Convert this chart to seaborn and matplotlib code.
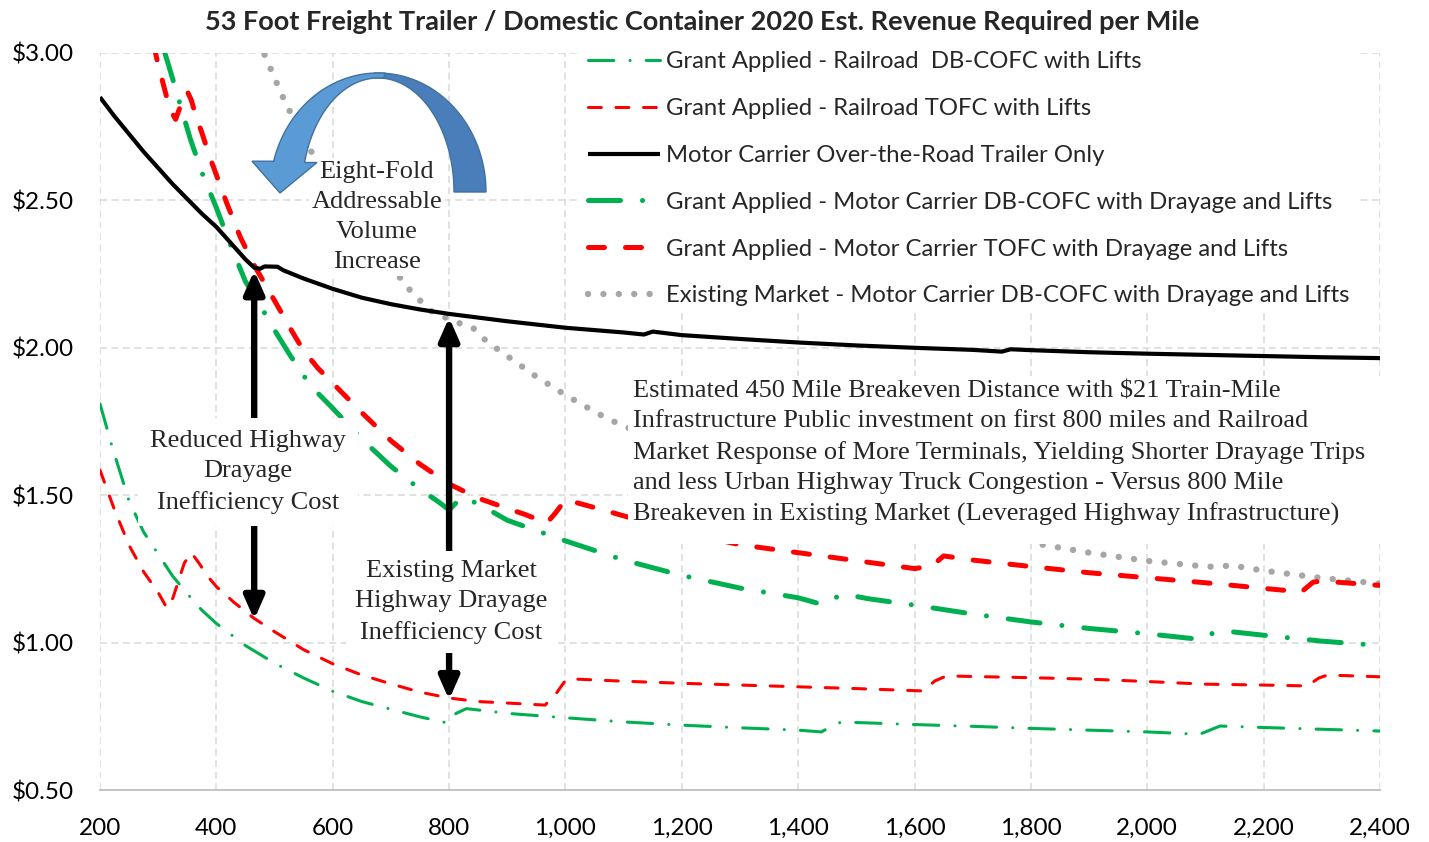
import numpy as np
import pandas as pd
import matplotlib
matplotlib.use("Agg")
import matplotlib.pyplot as plt
import matplotlib.patches as mpatches
from matplotlib.ticker import FuncFormatter, MultipleLocator
import seaborn as sns

# ---------------- data ----------------
x_rr_db = [200, 220, 250, 275, 300, 325, 350, 375, 400, 450, 500, 550, 600, 650, 700, 750, 798, 812, 830,
           900, 1000, 1100, 1200, 1300, 1400, 1440, 1460, 1475, 1500, 1600, 1700, 1800, 1900, 2000, 2090,
           2110, 2125, 2200, 2300, 2400]
y_rr_db = [1.81, 1.67, 1.48, 1.375, 1.30, 1.225, 1.166, 1.11, 1.065, 0.99, 0.93, 0.88, 0.835, 0.80, 0.774,
           0.748, 0.727, 0.76, 0.776, 0.76, 0.745, 0.731, 0.72, 0.711, 0.703, 0.697, 0.72, 0.731, 0.729,
           0.722, 0.716, 0.709, 0.703, 0.697, 0.689, 0.705, 0.717, 0.712, 0.706, 0.70]

x_rr_tofc = [200, 225, 250, 275, 300, 315, 325, 335, 345, 357, 370, 385, 400, 430, 465, 500, 550, 600, 650,
             700, 750, 800, 850, 900, 965, 985, 1000, 1020, 1100, 1200, 1300, 1400, 1500, 1615, 1635, 1655,
             1700, 1800, 1900, 2000, 2100, 2200, 2275, 2295, 2310, 2400]
y_rr_tofc = [1.585, 1.45, 1.33, 1.24, 1.17, 1.117, 1.15, 1.21, 1.27, 1.305, 1.27, 1.225, 1.19, 1.137, 1.082,
             1.037, 0.976, 0.928, 0.89, 0.86, 0.832, 0.812, 0.80, 0.795, 0.788, 0.83, 0.872, 0.876, 0.869,
             0.862, 0.856, 0.85, 0.844, 0.836, 0.87, 0.887, 0.885, 0.881, 0.876, 0.868, 0.859, 0.856, 0.853,
             0.88, 0.89, 0.884]

x_mc_otr = [200, 225, 250, 275, 300, 325, 350, 375, 400, 425, 450, 465, 475, 483, 505, 515, 550, 600, 650,
            700, 750, 800, 900, 1000, 1100, 1135, 1150, 1200, 1300, 1400, 1500, 1600, 1700, 1750, 1765, 1800,
            1900, 2000, 2100, 2200, 2300, 2400]
y_mc_otr = [2.85, 2.785, 2.725, 2.665, 2.61, 2.555, 2.505, 2.455, 2.41, 2.355, 2.30, 2.272, 2.268, 2.276,
            2.275, 2.263, 2.235, 2.20, 2.17, 2.148, 2.13, 2.115, 2.09, 2.068, 2.052, 2.045, 2.055, 2.043,
            2.03, 2.018, 2.008, 2.0, 1.993, 1.987, 1.995, 1.992, 1.985, 1.98, 1.976, 1.972, 1.968, 1.965]

x_mc_db = [310, 326, 340, 355, 375, 400, 425, 450, 475, 500, 525, 550, 575, 600, 650, 700, 750, 780, 800, 815,
           825, 860, 900, 950, 1000, 1100, 1200, 1300, 1400, 1440, 1460, 1480, 1520, 1600, 1700, 1800, 1900,
           2000, 2090, 2110, 2130, 2200, 2300, 2400]
y_mc_db = [3.01, 2.905, 2.81, 2.71, 2.595, 2.475, 2.345, 2.225, 2.145, 2.06, 1.98, 1.905, 1.845, 1.795, 1.69,
           1.598, 1.52, 1.48, 1.45, 1.48, 1.494, 1.46, 1.415, 1.38, 1.345, 1.28, 1.228, 1.185, 1.152, 1.13,
           1.15, 1.164, 1.149, 1.127, 1.097, 1.07, 1.048, 1.03, 1.011, 1.03, 1.04, 1.025, 1.005, 0.99]

x_mc_tofc = [292, 300, 308, 320, 330, 340, 350, 357, 365, 375, 390, 418, 441, 465, 500, 530, 550, 575, 600,
             650, 700, 750, 800, 850, 900, 930, 968, 983, 1000, 1050, 1100, 1200, 1300, 1400, 1500, 1600,
             1630, 1650, 1700, 1800, 1900, 2000, 2100, 2200, 2265, 2285, 2300, 2400]
y_mc_tofc = [3.03, 2.96, 2.90, 2.81, 2.775, 2.83, 2.87, 2.84, 2.785, 2.73, 2.64, 2.49, 2.376, 2.28, 2.16,
             2.056, 1.99, 1.93, 1.88, 1.78, 1.685, 1.605, 1.538, 1.49, 1.455, 1.435, 1.406, 1.44, 1.485,
             1.458, 1.43, 1.375, 1.332, 1.305, 1.278, 1.251, 1.26, 1.294, 1.28, 1.258, 1.237, 1.22, 1.203,
             1.184, 1.172, 1.205, 1.209, 1.194]

x_exist = [470, 484, 500, 518, 540, 556, 570, 600, 650, 700, 716, 735, 753, 773, 800, 815, 840, 858, 880, 905,
           950, 1000, 1045, 1071, 1100, 1200, 1300, 1400, 1500, 1600, 1700, 1790, 1817, 1900, 2000, 2100,
           2120, 2145, 2200, 2300, 2400]
y_exist = [3.04, 2.99, 2.915, 2.834, 2.75, 2.688, 2.644, 2.56, 2.42, 2.28, 2.237, 2.19, 2.155, 2.118, 2.098,
           2.085, 2.07, 2.033, 2.0, 1.965, 1.902, 1.84, 1.789, 1.761, 1.735, 1.655, 1.585, 1.525, 1.475,
           1.43, 1.385, 1.35, 1.333, 1.305, 1.277, 1.258, 1.257, 1.262, 1.244, 1.219, 1.2]

labels = ["Grant Applied - Railroad  DB-COFC with Lifts",
          "Grant Applied - Railroad TOFC with Lifts",
          "Motor Carrier Over-the-Road Trailer Only",
          "Grant Applied - Motor Carrier DB-COFC with Drayage and Lifts",
          "Grant Applied - Motor Carrier TOFC with Drayage and Lifts",
          "Existing Market - Motor Carrier DB-COFC with Drayage and Lifts"]

x_ticks = list(range(200, 2401, 200))
y_ticks = [0.5, 1.0, 1.5, 2.0, 2.5, 3.0]

title = "53 Foot Freight Trailer / Domestic Container 2020 Est. Revenue Required per Mile"
note_text = ("Estimated 450 Mile Breakeven Distance with \\$21 Train-Mile\n"
             "Infrastructure Public investment on first 800 miles and Railroad\n"
             "Market Response of More Terminals, Yielding Shorter Drayage Trips\n"
             "and less Urban Highway Truck Congestion - Versus 800 Mile\n"
             "Breakeven in Existing Market (Leveraged Highway Infrastructure)")

# ---------------- style ----------------
sns.set_style("white")
SANS = ["Lato", "DejaVu Sans"]
SERIF = ["Liberation Serif", "DejaVu Serif"]
plt.rcParams["font.family"] = SANS

W, H = 1429, 842
fig = plt.figure(figsize=(W / 100, H / 100), dpi=100)
AX_L, AX_R, AX_T, AX_B = 100, 1380, 53, 790
ax = fig.add_axes([AX_L / W, (H - AX_B) / H, (AX_R - AX_L) / W, (AX_B - AX_T) / H])

GREEN = "#00B050"
RED = "#FF0000"
GRAY = "#A6A6A6"

series = [
    (x_rr_db, y_rr_db, GREEN, 2.2, (8.3, 5.3, 0.01, 5.3), labels[0], 3),
    (x_rr_tofc, y_rr_tofc, RED, 2.2, (4.2, 4.8), labels[1], 3),
    (x_mc_otr, y_mc_otr, "black", 3.0, None, labels[2], 4),
    (x_mc_db, y_mc_db, GREEN, 3.6, (6.4, 4.4, 0.01, 4.4), labels[3], 3),
    (x_mc_tofc, y_mc_tofc, RED, 3.6, (3.2, 4.2), labels[4], 3),
    (x_exist, y_exist, GRAY, 4.6, (0.01, 2.4), labels[5], 2),
]

for xs, ys, col, lw, dashes, lab, z in series:
    df = pd.DataFrame({"x": xs, "y": ys})
    sns.lineplot(data=df, x="x", y="y", ax=ax, color=col, linewidth=lw, label=lab,
                 sort=False, estimator=None, zorder=z)
    ln = ax.lines[-1]
    if dashes is not None:
        ln.set_dashes(dashes)
        ln.set_dash_capstyle("round")
    else:
        ln.set_solid_capstyle("butt")

ax.set_xlim(200, 2400)
ax.set_ylim(0.5, 3.0)
ax.set_xticks(x_ticks)
ax.xaxis.set_minor_locator(MultipleLocator(100))
ax.set_yticks(y_ticks)
ax.xaxis.set_major_formatter(FuncFormatter(lambda v, p: f"{int(v):,}"))
ax.yaxis.set_major_formatter(FuncFormatter(lambda v, p: f"\\${v:.2f}"))
ax.set_xlabel("")
ax.set_ylabel("")

ax.grid(True, which="major", color="#D9D9D9", linewidth=1.1, linestyle=(0, (4.5, 3)))
ax.set_axisbelow(True)
for s in ["top", "right", "left"]:
    ax.spines[s].set_visible(False)
ax.spines["bottom"].set_color("#BFBFBF")
ax.spines["bottom"].set_linewidth(1.3)
ax.tick_params(axis="x", which="major", direction="out", length=6, width=1.2, color="#BFBFBF",
               pad=14, labelsize=17.5, labelcolor="black")
ax.tick_params(axis="x", which="minor", direction="in", length=4, width=1.2, color="#BFBFBF")
ax.tick_params(axis="y", which="both", length=0, pad=19, labelsize=17.5, labelcolor="black")

# ---------------- legend ----------------
leg = ax.legend(loc="upper left", bbox_to_anchor=(0.3758, 1.012), fontsize=17.2, frameon=True,
                facecolor="white", edgecolor="none", framealpha=1.0, fancybox=False,
                borderpad=0.3, borderaxespad=0.0, handlelength=3.0, handletextpad=0.25,
                labelspacing=1.08)
leg.set_zorder(20)

# ---------------- annotations ----------------
def axfrac(px, py):
    return ((px - AX_L) / (AX_R - AX_L), (AX_B - py) / (AX_B - AX_T))

# arrows (drawn under the text boxes)
arrow_style = "-|>,head_length=0.75,head_width=0.33"
for (x0, y0, x1, y1) in [(465, 1.58, 465, 2.262), (465, 1.58, 465, 1.078),
                         (800, 1.14, 800, 2.103), (800, 1.14, 800, 0.806)]:
    ax.annotate("", xy=(x1, y1), xytext=(x0, y0),
                arrowprops=dict(arrowstyle=arrow_style, color="black", lw=4.6,
                                mutation_scale=18, shrinkA=0, shrinkB=0), zorder=8)

LS = 1.47
ax.text(*axfrac(248, 472), "Reduced Highway\nDrayage\nInefficiency Cost", transform=ax.transAxes,
        ha="center", va="center", fontsize=19, family=SERIF, linespacing=LS,
        bbox=dict(boxstyle="square,pad=0.45", facecolor="white", edgecolor="none"), zorder=10)
ax.text(*axfrac(451, 602), "Existing Market\nHighway Drayage\nInefficiency Cost", transform=ax.transAxes,
        ha="center", va="center", fontsize=19, family=SERIF, linespacing=LS,
        bbox=dict(boxstyle="square,pad=0.35", facecolor="white", edgecolor="none"), zorder=10)
ax.text(*axfrac(377, 217), "Eight-Fold\nAddressable\nVolume\nIncrease", transform=ax.transAxes,
        ha="center", va="center", fontsize=19, family=SERIF, linespacing=LS,
        bbox=dict(boxstyle="square,pad=0.1", facecolor="white", edgecolor="none"), zorder=10)

# white panel behind long note
(rx0, ry0), (rx1, ry1) = axfrac(628, 544), axfrac(1386, 376)
ax.add_patch(mpatches.Rectangle((rx0, ry0), rx1 - rx0, ry1 - ry0, transform=ax.transAxes,
                                facecolor="white", edgecolor="none", zorder=9, clip_on=False))
ax.text(*axfrac(633, 453), note_text, transform=ax.transAxes, ha="left", va="center",
        fontsize=19, family=SERIF, linespacing=LS, zorder=10)

# curved blue arrow (shape), built in pixel space
def figpt(px, py):
    return (px / W, 1 - py / H)

cx, cy = 378, 192
rxo, ryo = 108, 119
rxi, ryi = 76, 114
def ell(rx, ry, t):
    t = np.radians(t)
    return cx + rx * np.cos(t), cy - ry * np.sin(t)

t_dark = np.linspace(0, 92, 60)
dark = [ell(rxo, ryo, t) for t in t_dark] + [ell(rxi, ryi, t) for t in t_dark[::-1]]
t_light = np.linspace(86, 165, 60)
oe = ell(rxo, ryo, 165)
ie = ell(rxi, ryi, 165)
light = ([ell(rxo, ryo, t) for t in t_light] + [(252, oe[1]), (280, 193), (317, ie[1])]
         + [ell(rxi, ryi, t) for t in t_light[::-1]])
for pts, col in [(dark, "#4A7EBB"), (light, "#5B9BD5")]:
    poly = mpatches.Polygon([figpt(*p) for p in pts], closed=True, transform=fig.transFigure,
                            facecolor=col, edgecolor="#41719C", linewidth=1.0, zorder=12)
    ax.add_patch(poly)
    poly.set_clip_on(False)

fig.text(702 / W, 1 - 22 / H, title, ha="center", va="center", fontsize=19.5, fontweight="bold",
         family=SANS)

fig.savefig("out.png", dpi=100)
